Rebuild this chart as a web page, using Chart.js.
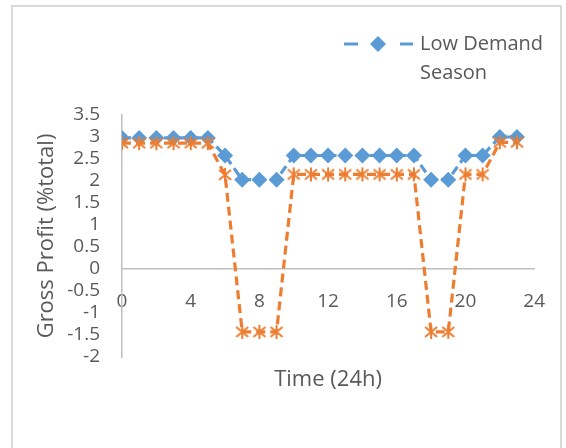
<!DOCTYPE html>
<html>
<head>
<meta charset="utf-8">
<script src="https://cdn.jsdelivr.net/npm/chart.js@4/dist/chart.umd.min.js"></script>
<style>
html,body{margin:0;padding:0;background:#fff;}
#wrap{position:relative;width:566px;height:448px;}
</style>
</head>
<body>
<div id="wrap"><canvas id="c" width="566" height="448"></canvas></div>
<script>
const hours = [0,1,2,3,4,5,6,7,8,9,10,11,12,13,14,15,16,17,18,19,20,21,22,23];
const lowDemand = [2.98,2.98,2.98,2.98,2.98,2.98,2.58,2.03,2.03,2.03,2.58,2.58,2.58,2.58,2.58,2.58,2.58,2.58,2.03,2.03,2.58,2.58,3.0,3.0];
const otherSeason = [2.86,2.86,2.86,2.86,2.86,2.86,2.14,-1.43,-1.43,-1.43,2.15,2.15,2.15,2.15,2.15,2.15,2.15,2.15,-1.43,-1.43,2.15,2.15,2.88,2.88];
const xTicks = [0,4,8,12,16,20,24];
const yTicks = [-2,-1.5,-1,-0.5,0,0.5,1,1.5,2,2.5,3,3.5];
const legendLines = ['Low Demand','Season'];

const BLUE = '#5B9BD5', ORANGE = '#ED7D31', GREY = '#595959';
const FONT = "'Open Sans', sans-serif";

function starCanvas(){
  const c = document.createElement('canvas');
  c.width = 16; c.height = 16;
  const g = c.getContext('2d');
  g.strokeStyle = ORANGE; g.lineWidth = 2;
  g.beginPath();
  g.moveTo(8,1); g.lineTo(8,15);
  g.moveTo(2,3); g.lineTo(14,13);
  g.moveTo(2,13); g.lineTo(14,3);
  g.stroke();
  return c;
}
const star = starCanvas();

const frame = {
  id:'frame',
  beforeDraw(chart){
    const ctx = chart.ctx;
    ctx.save();
    ctx.fillStyle='#fff'; ctx.fillRect(0,0,chart.width,chart.height);
    ctx.strokeStyle='#d9d9d9'; ctx.lineWidth=2;
    ctx.strokeRect(12,6,549,460);
    ctx.restore();
  },
  afterDraw(chart){
    const ctx = chart.ctx;
    ctx.save();
    ctx.strokeStyle=BLUE; ctx.lineWidth=3;
    ctx.beginPath();
    ctx.moveTo(344,44); ctx.lineTo(358,44);
    ctx.moveTo(400,44); ctx.lineTo(413,44);
    ctx.stroke();
    ctx.fillStyle=BLUE;
    ctx.beginPath();
    ctx.moveTo(378,36); ctx.lineTo(386,44); ctx.lineTo(378,52); ctx.lineTo(370,44); ctx.closePath();
    ctx.fill();
    ctx.fillStyle=GREY; ctx.font="20px "+FONT; ctx.textBaseline='middle'; ctx.textAlign='left';
    ctx.fillText(legendLines[0],420,44);
    ctx.fillText(legendLines[1],420,73);
    ctx.restore();
  }
};

new Chart(document.getElementById('c'),{
  type:'line',
  data:{
    datasets:[
      {label:'Other', data:hours.map((h,i)=>({x:h,y:otherSeason[i]})), borderColor:ORANGE, backgroundColor:ORANGE,
       borderWidth:3.2, borderDash:[9,5], pointStyle:star, pointRadius:8, tension:0, order:1},
      {label:legendLines.join(' '), data:hours.map((h,i)=>({x:h,y:lowDemand[i]})), borderColor:BLUE, backgroundColor:BLUE,
       borderWidth:3.2, borderDash:[9,5], pointStyle:'rectRot', pointRadius:8, pointBorderWidth:0, tension:0, order:2}
    ]
  },
  options:{
    responsive:false, animation:false, devicePixelRatio:1,
    layout:{padding:{left:0,right:29,top:115,bottom:0}},
    plugins:{legend:{display:false}, tooltip:{enabled:false}},
    scales:{
      x:{type:'linear', position:{y:0}, min:0, max:24,
         afterBuildTicks(s){ s.ticks = xTicks.map(v=>({value:v})); },
         grid:{display:false, drawTicks:false},
         border:{display:true, color:'#bfbfbf', width:1.5},
         ticks:{color:GREY, font:{family:FONT,size:19}, padding:21, maxRotation:0, autoSkip:false, callback:v=>String(v)}
      },
      x2:{type:'linear', position:'bottom', min:0, max:24,
         afterFit(s){ s.height = 91; },
         grid:{display:false}, border:{display:false}, ticks:{display:false},
         title:{display:true, text:'Time (24h)', color:GREY, font:{family:FONT,size:22}, padding:{top:0,bottom:55}}
      },
      y:{type:'linear', position:'left', min:-2, max:3.5,
         afterBuildTicks(s){ s.ticks = yTicks.map(v=>({value:v})); },
         afterFit(s){ s.width = 122; },
         grid:{display:false, drawTicks:false},
         border:{display:true, color:'#bfbfbf', width:1.5},
         ticks:{color:GREY, font:{family:FONT,size:19}, padding:22, autoSkip:false, callback:v=>String(v)},
         title:{display:true, text:'Gross Profit (%total)', color:GREY, font:{family:FONT,size:22}, padding:{top:34,bottom:0}}
      }
    }
  },
  plugins:[frame]
});
</script>
</body>
</html>
